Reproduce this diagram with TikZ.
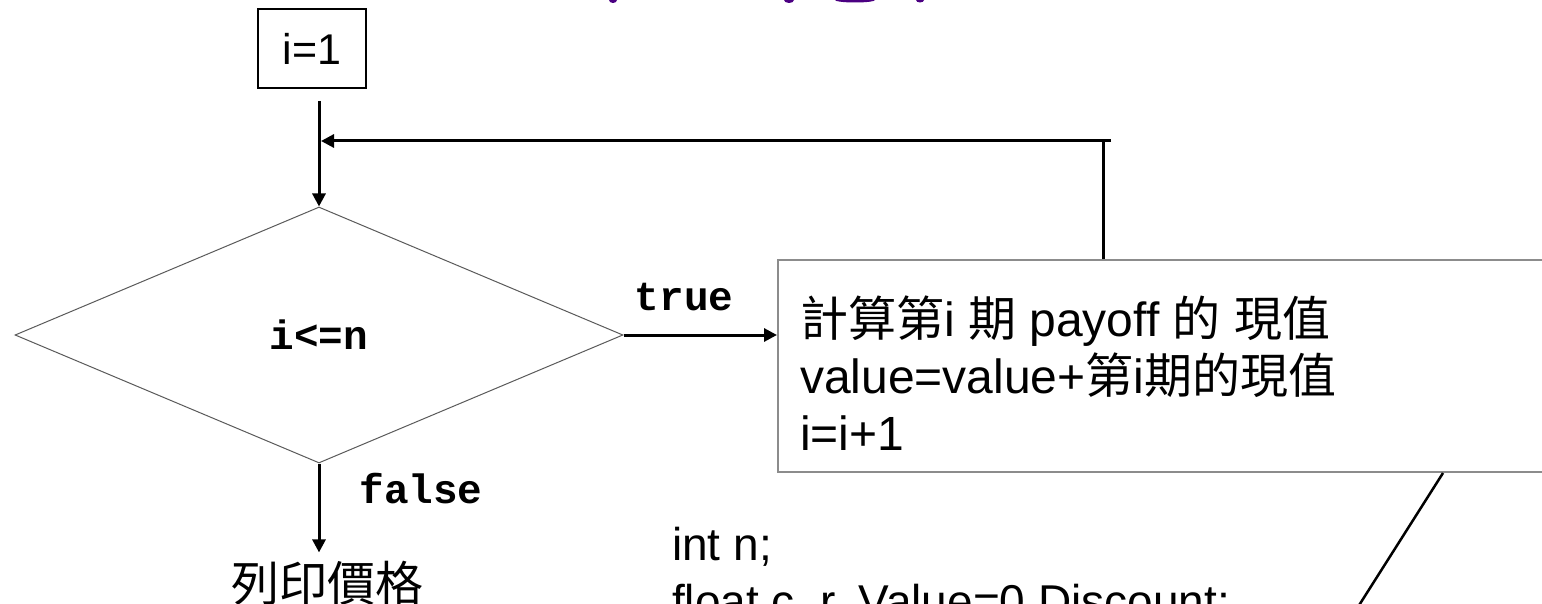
\documentclass[tikz,border=0pt]{standalone}
\usepackage{fontspec}
\setmainfont{Liberation Sans}
\newfontfamily\cjk{Noto Sans CJK TC}
\newfontfamily\codefont{Liberation Mono}
\usetikzlibrary{arrows.meta,shapes.geometric}
\definecolor{boxgray}{RGB}{140,140,140}
\definecolor{edgegray}{RGB}{90,90,90}
\definecolor{titlepurple}{RGB}{75,0,130}
\tikzset{
  flow/.style={line width=3pt, -{Triangle[length=13pt,width=13pt]}},
  plainline/.style={line width=3pt},
  calloutline/.style={line width=2.5pt},
  bodytext/.style={font=\fontsize{48}{57}\selectfont, inner sep=0pt, anchor=base west},
  codetext/.style={font=\fontsize{46}{57}\selectfont, inner sep=0pt, anchor=base west},
  keyword/.style={font=\codefont\bfseries\fontsize{41}{48}\selectfont, inner sep=0pt, anchor=base},
  initbox/.style={draw, line width=2pt, minimum width=108pt, minimum height=79pt, inner sep=0pt,
                  font=\fontsize{43}{50}\selectfont},
  decision/.style={diamond, draw=edgegray, line width=1pt, aspect=2.375,
                   minimum width=608pt, minimum height=256pt, inner sep=0pt,
                   font=\codefont\bfseries\fontsize{41}{48}\selectfont},
  procbox/.style={draw=boxgray, line width=1.5pt, minimum width=900pt, minimum height=212pt,
                  inner sep=0pt, anchor=north west}
}
\begin{document}
\begin{tikzpicture}[x=1pt,y=-1pt]
\useasboundingbox (0,0) rectangle (1542,604);
\fill[white] (0,0) rectangle (1542,604);
\clip (0,0) rectangle (1542,604);

% heading strokes running off the top edge
\fill[titlepurple] (613,0) ellipse [x radius=4pt, y radius=3pt];
\fill[titlepurple] (789,0) ellipse [x radius=5pt, y radius=3pt];
\fill[titlepurple] (855,0) ellipse [x radius=20pt, y radius=2.5pt];
\fill[titlepurple] (920,0) ellipse [x radius=4pt, y radius=2.5pt];

% nodes
\node[initbox] (init) at (312,48.5) {i=1};
\node[decision] (cond) at (319,335) {i<=n};
\node[procbox] (proc) at (777,259) {};
\node[bodytext] (p1) at (800,336) {{\cjk 計算第}i {\cjk 期} payoff {\cjk 的} {\cjk 現值}};
\node[bodytext] (p2) at (800,393) {value=value+{\cjk 第}i{\cjk 期的現值}};
\node[bodytext] (p3) at (800,450) {i=i+1};
\node[font=\cjk\fontsize{48}{57}\selectfont, inner sep=0pt, anchor=base] (print) at (327,601) {列印價格};
\node[keyword] (truelbl) at (684,310) {true};
\node[keyword] (falselbl) at (421,503) {false};
\node[codetext] (code1) at (672,560) {int n;};
\node[codetext] (code2) at (672,617) {float c, r, Value=0 Discount;};

% loop-back path
\coordinate (loopEnd) at (1111,141);
\coordinate (loopCorner) at (1103,141);
\coordinate (slashTop) at (1443,473);
\coordinate (slashEnd) at (1337,640);

% connectors
\draw[flow] ([yshift=-12pt]init.south -| cond.north) -- (cond.north);
\draw[flow] (cond.east) -- (proc.west |- cond.east);
\draw[flow, shorten >=8pt] (cond.south) -- (cond.south |- print.north);
\draw[plainline] (proc.north -| loopCorner) -- (loopCorner);
\draw[flow, shorten >=2pt] (loopEnd) -- (loopEnd -| cond.north);
\draw[calloutline] (slashTop) -- (slashEnd);
\end{tikzpicture}
\end{document}
